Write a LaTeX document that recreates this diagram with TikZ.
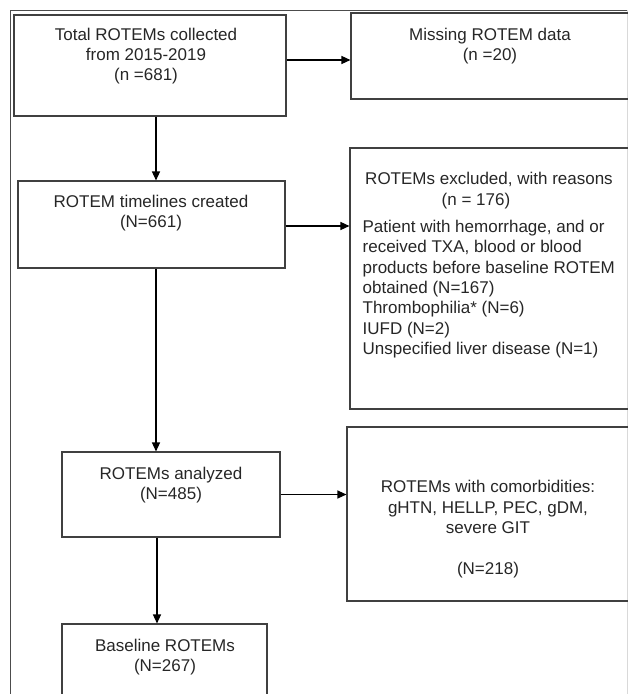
\documentclass[tikz,border=0pt]{standalone}
\usepackage{fontspec}
\setmainfont{Liberation Sans}
\usetikzlibrary{arrows.meta}

\begin{document}
\begin{tikzpicture}[x=1pt, y=-1pt, -{Triangle[length=9pt,width=8pt]}, line width=1.3pt,
        every node/.append style={font=\fontsize{17}{20.3}\selectfont, text=black!85, inner sep=0pt}]
      \tikzstyle{box} = [draw=black!75, line width=1.1pt, rectangle]
      \tikzstyle{txt} = [align=center]
      \useasboundingbox (0,0) rectangle (628,694);
      \clip (0,0) rectangle (628,694);
      % outer frame
      \draw[-, black!70, line width=1pt] (10,700) -- (10,10) -- (640,10);
      \draw[-, black!15, line width=0.8pt] (627,10) -- (627,700);
      % boxes
      \node (total) [box, minimum width=272pt, minimum height=101pt] at (150,65.5) {};
      \node (missing) [box, minimum width=289pt, minimum height=86pt] at (495.5,56) {};
      \node (timeline) [box, minimum width=267pt, minimum height=87pt] at (151.5,224.5) {};
      \node (excluded) [box, minimum width=290pt, minimum height=261pt] at (495,278.5) {};
      \node (analyzed) [box, minimum width=218pt, minimum height=85pt] at (171,494.5) {};
      \node (comorb) [box, minimum width=293pt, minimum height=174pt] at (493.5,514) {};
      \node (baseline) [box, minimum width=205pt, minimum height=96pt] at (164.5,672) {};
      % texts
      \node (totaltxt) [txt] at (146,56) {Total ROTEMs collected\\from 2015-2019\\(n =681)};
      \node (missingtxt) [txt] at (490,46) {Missing ROTEM data\\(n =20)};
      \node (timelinetxt) [txt] at (151,213) {ROTEM timelines created\\(N=661)};
      \node (exclhead) [txt] at (489,190.5) {ROTEMs excluded, with reasons\\(n = 176)\hspace*{26pt}};
      \node (reasons) [align=left, anchor=west] at (362,289) {Patient with hemorrhage, and or\\received TXA, blood or blood\\products before baseline ROTEM\\obtained (N=167)\\Thrombophilia* (N=6)\\IUFD (N=2)\\Unspecified liver disease (N=1)};
      \node (analyzedtxt) [txt] at (171,485) {ROTEMs analyzed\\(N=485)};
      \node (comorbtxt) [txt] at (488,529) {ROTEMs with comorbidities:\\gHTN, HELLP, PEC, gDM,\\severe GIT\\[20.3pt](N=218)};
      \node (baselinetxt) [txt] at (165,657) {Baseline ROTEMs\\(N=267)};
      % arrows
      \coordinate (trunk) at (156,0);
      \coordinate (trunkb) at (157,0);
      \draw ([yshift=5.5pt]total.east) -- ([yshift=5.5pt]total.east -| missing.west);
      \draw (total.south -| trunk) -- (timeline.north -| trunk);
      \draw ([yshift=-1.5pt]timeline.east) -- ([yshift=-1.5pt]timeline.east -| excluded.west);
      \draw (timeline.south -| trunk) -- (analyzed.north -| trunk);
      \draw (analyzed.east) -- (analyzed.east -| comorb.west);
      \draw (analyzed.south -| trunkb) -- (baseline.north -| trunkb);
    \end{tikzpicture}
\end{document}
